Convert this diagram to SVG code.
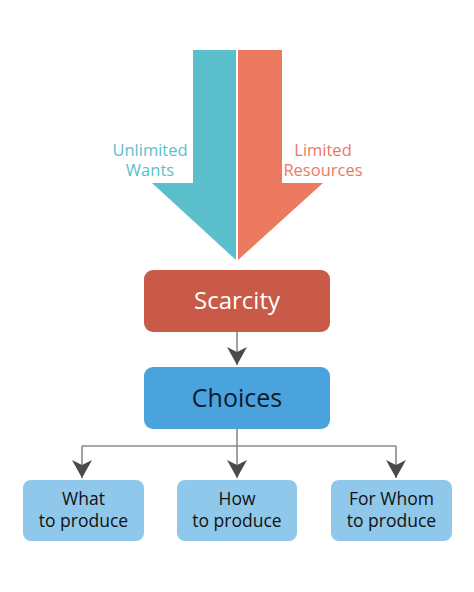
<svg xmlns="http://www.w3.org/2000/svg" width="474" height="592" viewBox="0 0 474 592">
<style>
text{font-family:"Open Sans","DejaVu Sans",sans-serif;text-anchor:middle}
.lbl{font-size:16.5px}
.sub{font-size:17.5px;fill:#111}
.conn{stroke:#8a8a8a;stroke-width:1.6;fill:none}
.sm{fill:#8fc8ea}
</style>
<defs>
<marker id="ah" viewBox="0 0 18 20" refX="18" refY="10" markerWidth="18" markerHeight="20" markerUnits="userSpaceOnUse" orient="auto">
<path d="M0,0 L5,10 L0,20 L18,10 Z" fill="#4a4a4a"/>
</marker>
</defs>
<rect width="474" height="592" fill="#fff"/>
<g id="wants">
<polygon points="193,50 236,50 236,260 152,183 193,183" fill="#5abfca"/>
<text class="lbl" x="150" y="156" fill="#5abfca">Unlimited</text>
<text class="lbl" x="150" y="176" fill="#5abfca">Wants</text>
</g>
<g id="resources">
<polygon points="238,50 282,50 282,183 323,183 238,260" fill="#eb7a60"/>
<text class="lbl" x="323" y="156" fill="#eb7a60">Limited</text>
<text class="lbl" x="323" y="176" fill="#eb7a60">Resources</text>
</g>
<g id="connectors">
<path class="conn" d="M237,332 V365" marker-end="url(#ah)"/>
<path class="conn" d="M237,429 V446 M82,446 H396"/>
<path class="conn" d="M82,446 V478" marker-end="url(#ah)"/>
<path class="conn" d="M237,446 V478" marker-end="url(#ah)"/>
<path class="conn" d="M396,446 V478" marker-end="url(#ah)"/>
</g>
<g id="scarcity">
<rect x="144" y="270" width="186" height="62" rx="9" fill="#c95a48"/>
<text x="237" y="309" font-size="24" fill="#fff">Scarcity</text>
</g>
<g id="choices">
<rect x="144" y="367" width="186" height="62" rx="9" fill="#4aa3dc"/>
<text x="237" y="407" font-size="25" fill="#0c1a30">Choices</text>
</g>
<g id="what">
<rect class="sm" x="23" y="480" width="121" height="61" rx="8"/>
<text class="sub" x="83.5" y="505">What</text>
<text class="sub" x="83.5" y="527">to produce</text>
</g>
<g id="how">
<rect class="sm" x="177" y="480" width="120" height="61" rx="8"/>
<text class="sub" x="237" y="505">How</text>
<text class="sub" x="237" y="527">to produce</text>
</g>
<g id="forwhom">
<rect class="sm" x="331" y="480" width="121" height="61" rx="8"/>
<text class="sub" x="391.5" y="505">For Whom</text>
<text class="sub" x="391.5" y="527">to produce</text>
</g>
</svg>
